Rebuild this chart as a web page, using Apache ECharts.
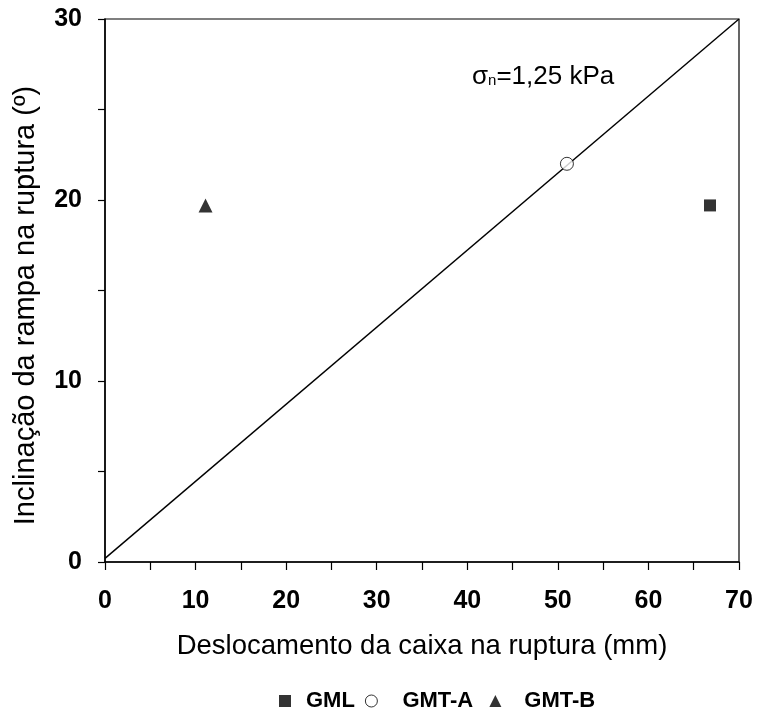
<!DOCTYPE html>
<html><head><meta charset="utf-8">
<script src="https://cdn.jsdelivr.net/npm/echarts@6/dist/echarts.min.js"></script>
<style>html,body{margin:0;padding:0;background:#fff}#c{width:760px;height:716px}</style>
</head><body><div id="c"></div>
<script>
const seriesNames = ['GML', 'GMT-A', 'GMT-B'];
const gmlData = [[66.8, 19.7]];
const gmtAData = [[51.0, 22.0]];
const gmtBData = [[11.1, 19.7]];
const lineData = [[0, 0.2], [70, 30]];
const xTicks = [0, 10, 20, 30, 40, 50, 60, 70];
const yTicks = [0, 10, 20, 30];

const chart = echarts.init(document.getElementById('c'));
const font = 'Liberation Sans, Arial, sans-serif';
const legendText = (pl) => ({ fontSize: 22, fontWeight: 'bold', color: '#000', fontFamily: font, padding: [0, 0, 0, pl] });
chart.setOption({
  animation: false,
  textStyle: { fontFamily: font },
  grid: { left: 105, right: 21, top: 19, bottom: 154, show: true, borderColor: '#000', borderWidth: 1.2 },
  xAxis: {
    type: 'value', min: 0, max: 70, interval: 5,
    name: 'Deslocamento da caixa na ruptura (mm)', nameLocation: 'middle', nameGap: 70,
    nameTextStyle: { fontSize: 27.5, color: '#000', fontFamily: font },
    axisLine: { lineStyle: { color: '#000', width: 1.5 } },
    axisTick: { inside: false, length: 8, lineStyle: { color: '#000', width: 1.2 } },
    axisLabel: { fontSize: 25, fontWeight: 'bold', color: '#000', margin: 27, fontFamily: font,
      formatter: v => xTicks.includes(v) ? String(v) : '' },
    splitLine: { show: false }
  },
  yAxis: {
    type: 'value', min: 0, max: 30, interval: 5,
    name: 'Inclinação da rampa na ruptura (º)', nameLocation: 'middle', nameGap: 65,
    nameTextStyle: { fontSize: 29, color: '#000', fontFamily: font, padding: [0, 30, 0, 0] },
    axisLine: { lineStyle: { color: '#000', width: 1.5 } },
    axisTick: { inside: false, length: 7, lineStyle: { color: '#000', width: 1.2 } },
    axisLabel: { fontSize: 25, fontWeight: 'bold', color: '#000', margin: 23, fontFamily: font,
      formatter: v => yTicks.includes(v) ? String(v) : '' },
    splitLine: { show: false }
  },
  legend: {
    top: 685, left: 274, itemGap: 10, itemWidth: 12, itemHeight: 12,
    formatter: name => name === 'GMT-A' ? name + ' ' : name,
    data: [
      { name: seriesNames[0], icon: 'rect', textStyle: legendText(10) },
      { name: seriesNames[1], icon: 'circle', itemStyle: { color: '#fff', borderColor: '#000', borderWidth: 1 }, textStyle: legendText(20) },
      { name: seriesNames[2], icon: 'triangle', textStyle: legendText(18) }
    ],
    textStyle: legendText(10)
  },
  series: [
    { type: 'line', data: lineData, showSymbol: false, symbol: 'none', silent: true,
      lineStyle: { color: '#000', width: 1.4 }, z: 1 },
    { name: seriesNames[0], type: 'scatter', data: gmlData, symbol: 'rect', symbolSize: 12,
      itemStyle: { color: '#000' }, z: 3 },
    { name: seriesNames[1], type: 'scatter', data: gmtAData, symbol: 'circle', symbolSize: 13,
      itemStyle: { color: '#fff', borderColor: '#000', borderWidth: 1 }, z: 3 },
    { name: seriesNames[2], type: 'scatter', data: gmtBData, symbol: 'triangle', symbolSize: 14,
      itemStyle: { color: '#000' }, z: 3 }
  ],
  graphic: [{
    type: 'text', left: 472, top: 64,
    style: {
      text: '{s|σ}{n|n}{t|=1,25 kPa}',
      rich: {
        s: { fontSize: 26, fontFamily: font, fill: '#000' },
        n: { fontSize: 15, fontFamily: font, fill: '#000', padding: [8, 0, 0, 0] },
        t: { fontSize: 26, fontFamily: font, fill: '#000' }
      }
    }
  }]
});
</script></body></html>
